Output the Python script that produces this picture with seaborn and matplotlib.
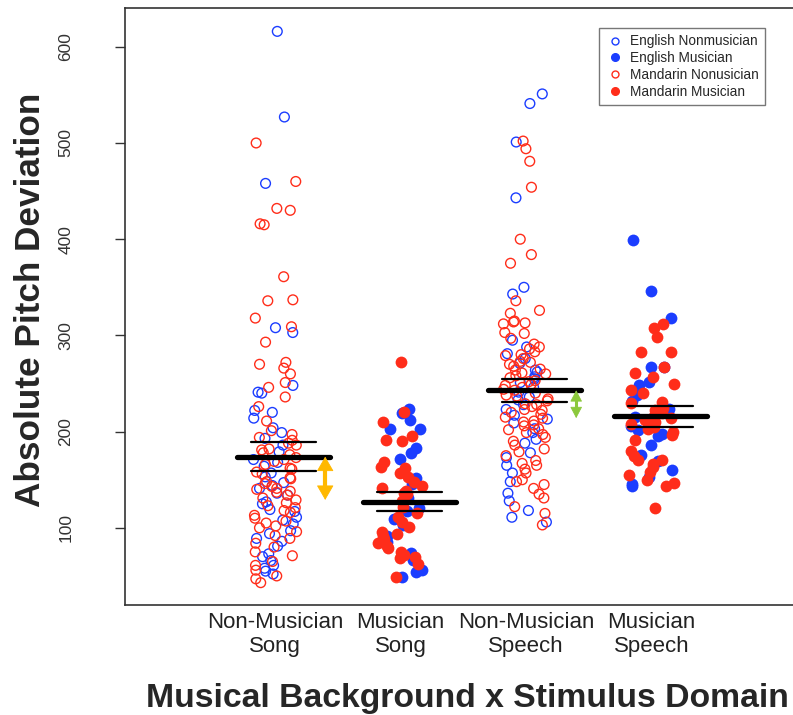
import numpy as np
import pandas as pd
import seaborn as sns
import matplotlib.pyplot as plt
from matplotlib.lines import Line2D

sns.set_style("white")
plt.rcParams["font.family"] = ["Liberation Sans", "DejaVu Sans"]

conditions = ["Non-Musician\nSong", "Musician\nSong", "Non-Musician\nSpeech", "Musician\nSpeech"]
groups = ["English Nonmusician", "English Musician", "Mandarin Nonusician", "Mandarin Musician"]

# values, per language and condition
eng_nm_song = [616, 527, 458, 308, 303, 248, 241, 240, 222, 220, 214, 204, 199, 193, 186,
               179, 171, 168, 164, 157, 153, 147, 144, 141, 136, 134, 127, 125, 119, 117,
               111, 108, 104, 97, 94, 89, 86, 81, 73, 70, 66, 61, 58, 55, 52]
man_nm_song = [500, 460, 432, 430, 416, 415, 361, 337, 336, 318, 309, 293, 272, 270, 266,
               260, 251, 246, 236, 226, 211, 201, 197, 194, 191, 188, 186, 182, 181, 178,
               176, 173, 171, 169, 166, 162, 161, 158, 156, 152, 151, 148, 146, 143, 141,
               140, 138, 137, 134, 131, 129, 126, 123, 121, 118, 116, 113, 110, 107, 105,
               102, 100, 96, 92, 89, 84, 80, 75, 71, 65, 61, 56, 50, 47, 43]
eng_m_song = [224, 219, 212, 203, 203, 183, 178, 172, 152, 146, 131, 121, 118, 109, 103,
              92, 85, 74, 67, 56, 54, 49]
man_m_song = [272, 220, 210, 195, 191, 190, 168, 163, 162, 157, 153, 148, 143, 141, 138,
              136, 135, 128, 122, 115, 111, 106, 101, 96, 94, 91, 88, 84, 81, 79,
              75, 72, 70, 69, 62, 49]
eng_nm_speech = [551, 541, 501, 443, 350, 343, 295, 288, 281, 276, 271, 264, 262, 257, 255,
                 251, 246, 241, 236, 233, 228, 223, 217, 213, 209, 203, 199, 192, 188, 178,
                 173, 165, 157, 148, 136, 128, 118, 111, 106]
man_nm_speech = [502, 494, 481, 454, 400, 384, 375, 336, 326, 323, 314, 315, 313, 312, 303,
                 302, 297, 291, 288, 286, 283, 280, 279, 276, 273, 272, 270, 268, 265, 264,
                 261, 260, 258, 256, 253, 252, 249, 248, 246, 244, 243, 240, 238, 237, 234,
                 232, 229, 228, 226, 223, 222, 220, 218, 215, 214, 211, 210, 207, 206, 203,
                 202, 199, 197, 194, 190, 186, 182, 179, 175, 170, 167, 165, 161, 157, 150,
                 148, 145, 141, 135, 131, 122, 115, 103]
eng_m_speech = [399, 346, 318, 267, 267, 252, 248, 238, 232, 224, 220, 215, 210, 206, 202,
                198, 195, 186, 176, 169, 160, 153, 146, 143]
man_m_speech = [312, 308, 298, 283, 283, 267, 261, 257, 250, 243, 240, 231, 230, 225, 222,
                219, 216, 214, 212, 210, 208, 205, 203, 200, 197, 191, 180, 175, 170, 170,
                166, 163, 158, 155, 150, 147, 143, 121]

# mean and standard error per condition
means = [174, 127, 243, 216]
ses = [15, 10, 12, 11]

# difference arrows: condition index, from, to
orange_arrow = [0, 174, 129]
green_arrow = [2, 243, 214]

rows = []
for cond, eng, man in [(0, eng_nm_song, man_nm_song), (1, eng_m_song, man_m_song),
                       (2, eng_nm_speech, man_nm_speech), (3, eng_m_speech, man_m_speech)]:
    musician = cond in (1, 3)
    for v in eng:
        rows.append((conditions[cond], groups[1] if musician else groups[0], v))
    for v in man:
        rows.append((conditions[cond], groups[3] if musician else groups[2], v))
df = pd.DataFrame(rows, columns=["condition", "group", "value"])

blue = "#1b3dff"
red = "#ff2d1a"
colors = {groups[0]: blue, groups[1]: blue, groups[2]: red, groups[3]: red}
hollow = {groups[0]: True, groups[1]: False, groups[2]: True, groups[3]: False}

np.random.seed(3)
fig = plt.figure(figsize=(7.93, 7.15), dpi=100)
ax = fig.add_axes([125/793, (715-605)/715, (793-125)/793, (605-8)/715])

for g in groups:
    sub = df[df.group == g]
    c = colors[g]
    if hollow[g]:
        sns.stripplot(data=sub, x="condition", y="value", order=conditions, jitter=0.18,
                      size=7, color=c, facecolor="none", edgecolor=c, linewidth=1.0,
                      ax=ax, zorder=3)
    else:
        sns.stripplot(data=sub, x="condition", y="value", order=conditions, jitter=0.18,
                      size=8.5, color=c, linewidth=0, ax=ax, zorder=3)

off = 0.07
for i, (m, s) in enumerate(zip(means, ses)):
    ax.plot([i + off - 0.37, i + off + 0.37], [m, m], color="black", lw=3.8,
            solid_capstyle="round", zorder=5)
    for y in (m - s, m + s):
        ax.plot([i + off - 0.26, i + off + 0.26], [y, y], color="black", lw=1.6,
                solid_capstyle="round", zorder=5)

# double arrows: filled heads with a thin outline, shaft drawn as a separate line
arrow_specs = [(orange_arrow, "#ffb800", "<|-|>,head_length=0.95,head_width=0.55", 3.0, 7),
               (green_arrow, "#8bc83c", "<|-|>,head_length=0.72,head_width=0.38", 2.2, 5)]
for (i, y0, y1), c, style, shaft_lw, trim in arrow_specs:
    ax.annotate("", xy=(i + 0.4, y1), xytext=(i + 0.4, y0),
                arrowprops=dict(arrowstyle=style, color=c, lw=0.6, shrinkA=0, shrinkB=0,
                                mutation_scale=10),
                zorder=6)
    ax.plot([i + 0.4, i + 0.4], [y0 - trim, y1 + trim], color=c, lw=shaft_lw,
            solid_capstyle="butt", zorder=6)

ax.set_xlim(-150/125.5, (793-275)/125.5)
ax.set_ylim(19.8, 640.3)
ax.set_yticks([100, 200, 300, 400, 500, 600])
ax.tick_params(axis="y", length=7, width=1, color="#333333", pad=30, labelsize=12.5,
               labelcolor="#333333", left=True)
for lab in ax.get_yticklabels():
    lab.set_rotation(90)
    lab.set_va("center")
ax.tick_params(axis="x", length=0, pad=5, labelsize=16, labelcolor="#222222")
ax.set_xlabel("")
ax.set_ylabel("")
for side in ["left", "top", "bottom"]:
    ax.spines[side].set_color("#333333")
    ax.spines[side].set_linewidth(1.2)
ax.spines["right"].set_visible(False)

handles = []
for g in groups:
    c = colors[g]
    handles.append(Line2D([], [], ls="none", marker="o", markersize=5 if hollow[g] else 5.5,
                          markerfacecolor="none" if hollow[g] else c,
                          markeredgecolor=c, markeredgewidth=1.0))
leg = ax.legend(handles, groups, loc="upper right", bbox_to_anchor=(0.958, 0.966),
                borderaxespad=0, fontsize=9.8, frameon=True, fancybox=False,
                labelspacing=0.2, handletextpad=0.4, handlelength=1.4, borderpad=0.45)
leg.get_frame().set_edgecolor("#555555")
leg.get_frame().set_linewidth(1.0)

fig.text(467/793, 1 - 698/715, "Musical Background x Stimulus Domain", fontsize=24.3,
         fontweight="bold", ha="center", va="center")
fig.text(31/793, 1 - 300/715, "Absolute Pitch Deviation", fontsize=25.3, fontweight="bold",
         ha="center", va="center", rotation=90)

fig.savefig("out.png", dpi=100)
